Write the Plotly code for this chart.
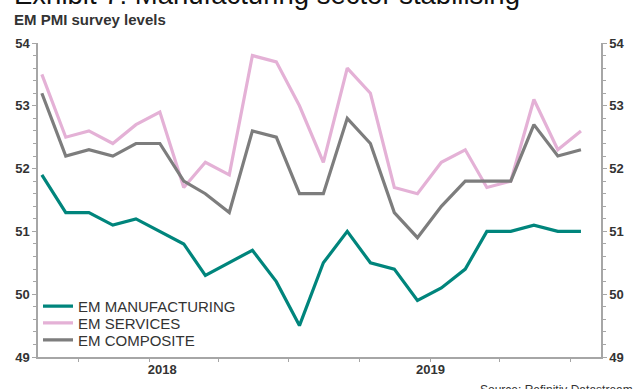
import plotly.graph_objects as go

months = ["2017-08", "2017-09", "2017-10", "2017-11", "2017-12",
          "2018-01", "2018-02", "2018-03", "2018-04", "2018-05", "2018-06",
          "2018-07", "2018-08", "2018-09", "2018-10", "2018-11", "2018-12",
          "2019-01", "2019-02", "2019-03", "2019-04", "2019-05", "2019-06",
          "2019-07"]
manufacturing = [51.9, 51.3, 51.3, 51.1, 51.2, 51.0, 50.8, 50.3, 50.5, 50.7,
                 50.2, 49.5, 50.5, 51.0, 50.5, 50.4, 49.9, 50.1, 50.4, 51.0,
                 51.0, 51.1, 51.0, 51.0]
services = [53.5, 52.5, 52.6, 52.4, 52.7, 52.9, 51.7, 52.1, 51.9, 53.8,
            53.7, 53.0, 52.1, 53.6, 53.2, 51.7, 51.6, 52.1, 52.3, 51.7,
            51.8, 53.1, 52.3, 52.6]
composite = [53.2, 52.2, 52.3, 52.2, 52.4, 52.4, 51.8, 51.6, 51.3, 52.6,
             52.5, 51.6, 51.6, 52.8, 52.4, 51.3, 50.9, 51.4, 51.8, 51.8,
             51.8, 52.7, 52.2, 52.3]
year_tick_dates = ["2018-01-18", "2019-01-01"]
year_tick_labels = ["2018", "2019"]
y_ticks = [49, 50, 51, 52, 53, 54]

dates = [m + "-15" for m in months]

FONT = "Liberation Sans, Arial, sans-serif"
TEXT = "#333333"
AXIS = "#a6a6a6"

fig = go.Figure()
series = [("EM MANUFACTURING", manufacturing, "#00857c", "legend"),
          ("EM SERVICES", services, "#e4b1d6", "legend2"),
          ("EM COMPOSITE", composite, "#7d7d7d", "legend3")]
for name, vals, col, leg in series:
    fig.add_trace(go.Scatter(x=dates, y=vals, name=name, mode="lines",
                             line=dict(color=col, width=3.2),
                             legend=leg, hoverinfo="skip"))
# invisible trace for right axis
fig.add_trace(go.Scatter(x=dates, y=composite, yaxis="y2", mode="lines",
                         line=dict(color="rgba(0,0,0,0)", width=0),
                         showlegend=False, hoverinfo="skip"))

yaxis_common = dict(range=[49, 54], tickvals=y_ticks,
                    ticktext=[str(v) for v in y_ticks],
                    showgrid=False, zeroline=False, showline=True,
                    linecolor=AXIS, linewidth=1.5,
                    ticks="outside", ticklen=4, tickcolor=AXIS,
                    minor=dict(dtick=0.2, tick0=49, ticks="outside",
                               ticklen=3, tickcolor=AXIS),
                    tickfont=dict(family=FONT, size=13, color=TEXT,
                                  weight="bold"),
                    fixedrange=True)

plot_top, plot_bottom = 43, 359
def py(pix):
    return (plot_bottom - pix) / (plot_bottom - plot_top)

leg_common = dict(x=0.0, xanchor="left", yanchor="middle",
                  font=dict(family=FONT, size=15, color=TEXT),
                  bgcolor="rgba(0,0,0,0)", itemwidth=30)

fig.update_layout(
    width=637, height=389,
    margin=dict(l=38, r=25, t=43, b=30),
    paper_bgcolor="white", plot_bgcolor="white",
    showlegend=True,
    legend=dict(y=py(308), **leg_common),
    legend2=dict(y=py(325), **leg_common),
    legend3=dict(y=py(342), **leg_common),
    xaxis=dict(type="date", range=["2017-08-10", "2019-08-10"],
               tickvals=year_tick_dates, ticktext=year_tick_labels,
               ticks="", showgrid=False, zeroline=False, showline=True,
               linecolor=AXIS, linewidth=1.5,
               minor=dict(dtick="M3", tick0="2017-10-01", ticks="outside",
                          ticklen=3, tickcolor=AXIS, showgrid=False),
               tickfont=dict(family=FONT, size=13, color=TEXT,
                             weight="bold"),
               fixedrange=True),
    yaxis=dict(side="left", **yaxis_common),
    yaxis2=dict(side="right", overlaying="y", **yaxis_common),
    annotations=[
        dict(text="Exhibit 7: Manufacturing sector stabilising",
             xref="paper", yref="paper", x=-0.0453, y=py(-6),
             xanchor="left", yanchor="middle", showarrow=False,
             font=dict(family=FONT, size=27.5, color="#111111")),
        dict(text="EM PMI survey levels",
             xref="paper", yref="paper", x=-0.0453, y=py(19),
             xanchor="left", yanchor="middle", showarrow=False,
             font=dict(family=FONT, size=15, color=TEXT, weight="bold")),
        dict(text="Source: Refinitiv Datastream",
             xref="paper", yref="paper", x=(487 - 38) / 574, y=py(383),
             xanchor="left", yanchor="top", showarrow=False,
             font=dict(family=FONT, size=12, color=TEXT)),
    ],
)

fig.write_html("out.html")
